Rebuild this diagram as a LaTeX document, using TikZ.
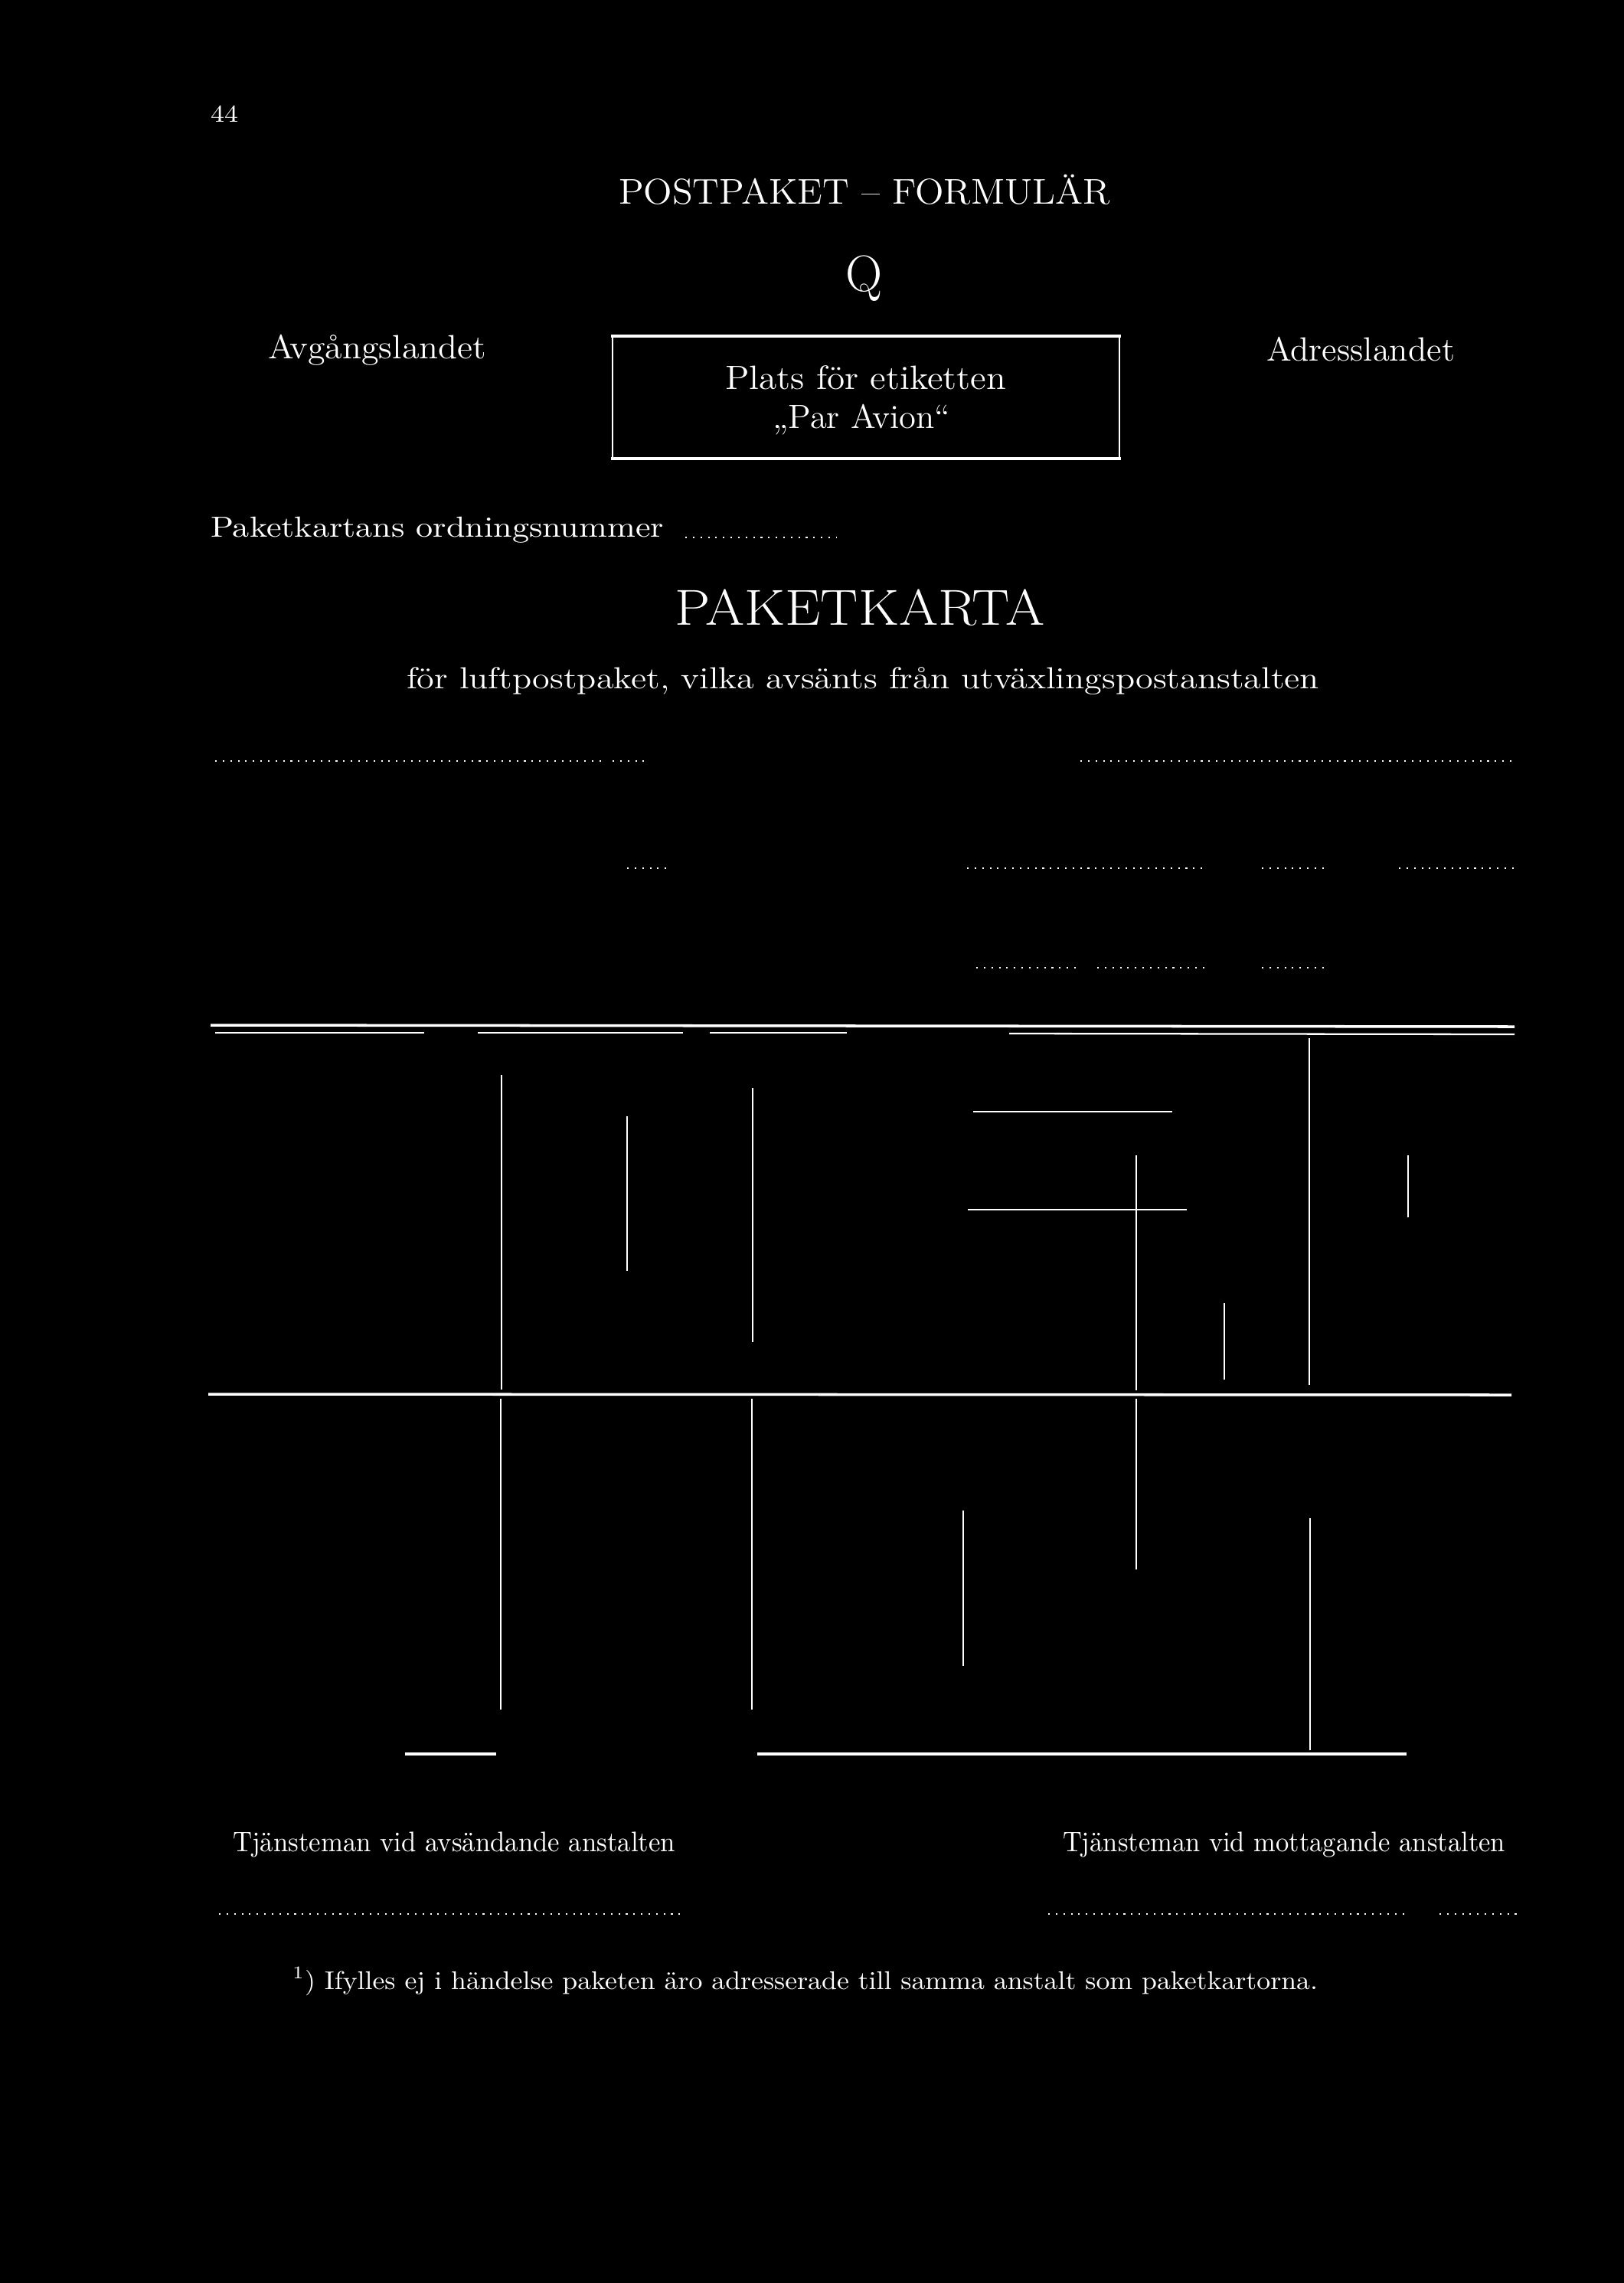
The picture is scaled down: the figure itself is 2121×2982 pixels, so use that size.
\documentclass[tikz,border=0pt]{standalone}
\usepackage{fontspec}
\usepackage{graphicx}
\newlength\mypx
\setlength\mypx{0.1mm}
\newcommand\fitw[2]{\resizebox{#1\mypx}{\height}{#2}}
\newcommand\fsz[1]{\fontsize{#1pt}{#1pt}\selectfont}
\begin{document}
\begin{tikzpicture}[x=0.1mm,y=-0.1mm,
  txt/.style={text=white,inner sep=0pt,outer sep=0pt,anchor=base west},
  thickline/.style={draw=white,line width=1.0pt},
  medline/.style={draw=white,line width=0.65pt},
  thinline/.style={draw=white,line width=0.45pt},
  dotline/.style={draw=white,line width=0.6pt,dash pattern=on 0.6pt off 2.2pt}]
\fill[black] (0,0) rectangle (2121,2982);
\useasboundingbox (0,0) rectangle (2121,2982);

% header texts
\node[txt] (pagenum) at (275,159) {\fsz{9}\fitw{36}{44}};
\node[txt] (title) at (808,266) {\fsz{13.3}\fitw{642}{POSTPAKET -- FORMULÄR}};
\node[txt,anchor=base] (q) at (1129,380) {\fsz{19}Q};
\node[txt] (avg) at (350,468) {\fsz{12.5}\fitw{285}{Avgångslandet}};
\node[txt] (adr) at (1654,471) {\fsz{12.5}\fitw{246}{Adresslandet}};

% label box
\draw[thinline] (800,439) -- (800,599);
\draw[thinline] (1462,439) -- (1462,599);
\draw[thickline] (798,439) -- (1464,439);
\draw[thickline] (798,599) -- (1464,599);
\node[txt] (plats) at (947,508) {\fsz{12.5}\fitw{367}{Plats för etiketten}};
\node[txt] (avion) at (1009,559) {\fsz{12.5}\fitw{232}{„Par Avion“}};

% ordningsnummer
\node[txt] (ordn) at (275,701) {\fsz{10.8}\fitw{592}{Paketkartans ordningsnummer}};
\draw[dotline] (895,702) -- (1093,702);

\node[txt] (pk) at (881,816) {\fsz{18.8}\fitw{483}{PAKETKARTA}};
\node[txt] (for) at (531,899) {\fsz{11.3}\fitw{1192}{för luftpostpaket, vilka avsänts från utväxlingspostanstalten}};

% dotted rows
\draw[dotline] (281,994) -- (790,994);
\draw[dotline] (800,994) -- (842,994);
\draw[dotline] (1411,994) -- (1980,994);

\draw[dotline] (819,1134) -- (873,1134);
\draw[dotline] (1263,1134) -- (1574,1134);
\draw[dotline] (1648,1134) -- (1732,1134);
\draw[dotline] (1827,1134) -- (1980,1134);

\draw[dotline] (1275,1264) -- (1411,1264);
\draw[dotline] (1433,1264) -- (1580,1264);
\draw[dotline] (1648,1264) -- (1732,1264);

% table top double line
\draw[thickline] (275,1339) -- (1978,1341);
\draw[medline] (281,1349) -- (554,1349);
\draw[medline] (624,1349) -- (892,1349);
\draw[medline] (927,1349) -- (1106,1349);
\draw[medline] (1318,1350) -- (1978,1351);

% upper verticals
\draw[thinline] (655,1404) -- (655,1815);
\draw[thinline] (819,1458) -- (819,1660);
\draw[thinline] (983,1421) -- (983,1753);
\draw[medline] (1271,1452) -- (1531,1452);
\draw[medline] (1264,1580) -- (1550,1580);
\draw[thinline] (1484,1509) -- (1484,1816);
\draw[thinline] (1599,1702) -- (1599,1802);
\draw[thinline] (1710,1356) -- (1710,1809);
\draw[thinline] (1839,1509) -- (1839,1590);

% middle line
\draw[thickline] (272,1821) -- (1974,1822);

% lower verticals
\draw[thinline] (654,1827) -- (654,2233);
\draw[thinline] (982,1827) -- (982,2233);
\draw[thinline] (1258,1973) -- (1258,2176);
\draw[thinline] (1484,1827) -- (1484,2050);
\draw[thinline] (1711,1983) -- (1711,2286);
\draw[thickline] (529,2291) -- (648,2291);
\draw[thickline] (989,2291) -- (1837,2291);

% signatures
\node[txt] (sig1) at (304,2418) {\fsz{10.5}\fitw{578}{Tjänsteman vid avsändande anstalten}};
\node[txt] (sig2) at (1388,2418) {\fsz{10.5}\fitw{578}{Tjänsteman vid mottagande anstalten}};
\draw[dotline] (286,2500) -- (895,2500);
\draw[dotline] (1369,2500) -- (1835,2500);
\draw[dotline] (1880,2500) -- (1985,2500);

% footnote
\node[txt] (foot) at (382,2598) {\fsz{9.5}\fitw{1339}{\textsuperscript{1}) Ifylles ej i händelse paketen äro adresserade till samma anstalt som paketkartorna.}};
\end{tikzpicture}
\end{document}
